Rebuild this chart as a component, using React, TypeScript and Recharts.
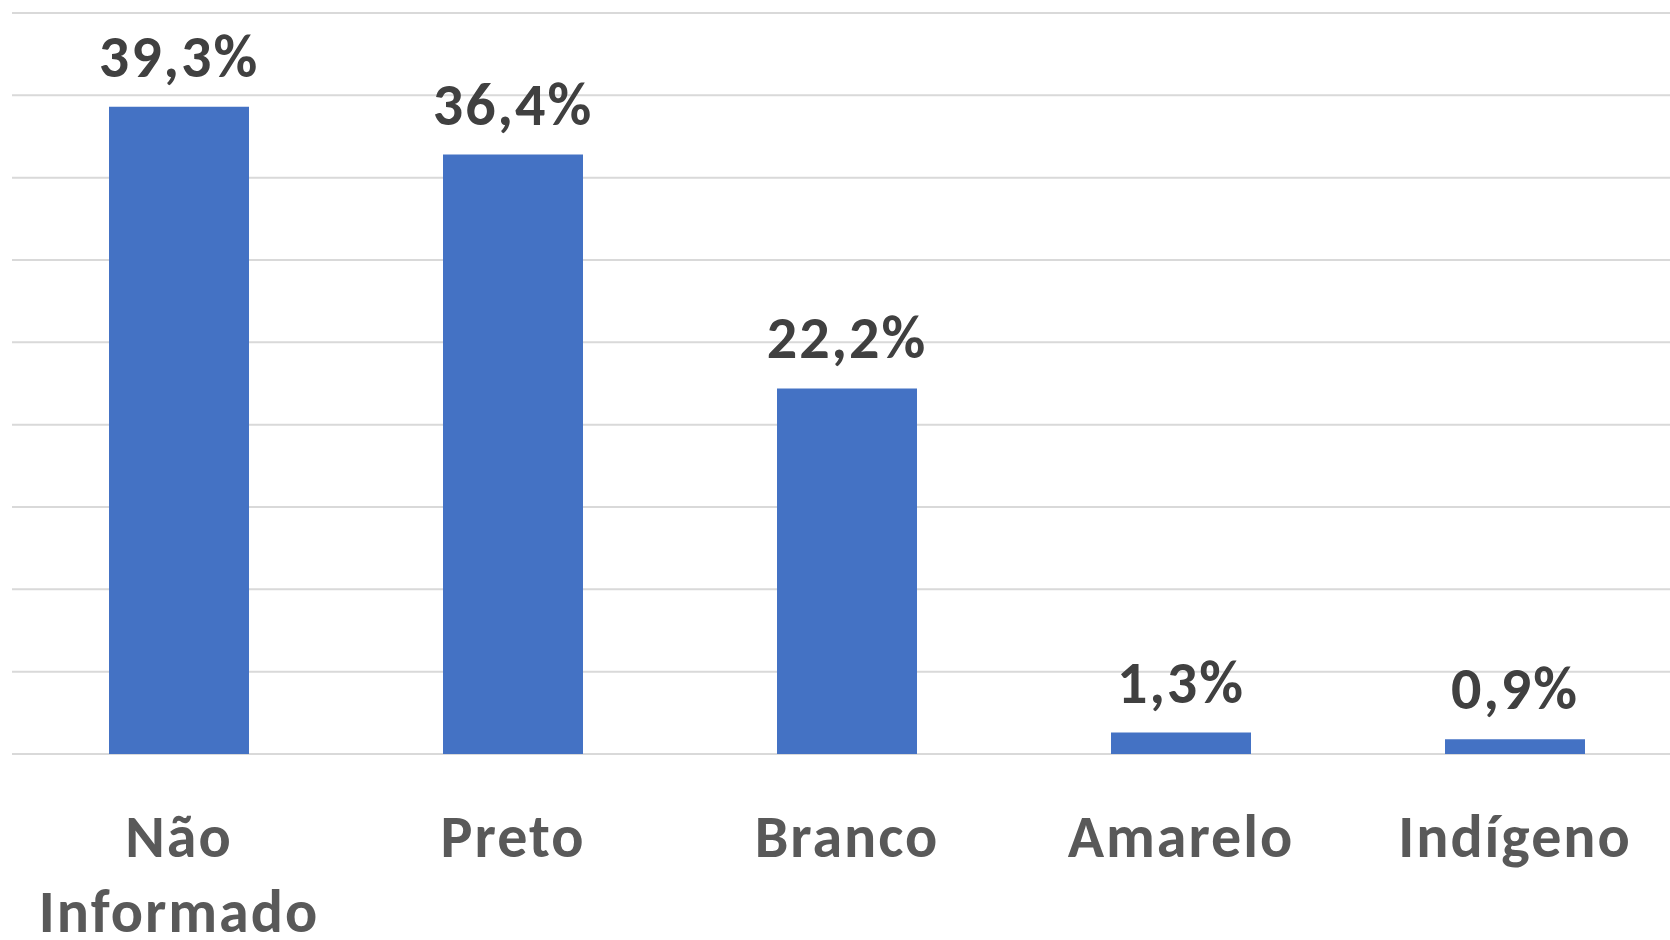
import React from "react";
import { BarChart, Bar, XAxis, YAxis, CartesianGrid, LabelList } from "recharts";

const categories = ["Não Informado", "Preto", "Branco", "Amarelo", "Indígeno"];
const values = [39.3, 36.4, 22.2, 1.3, 0.9];
const yTicks = [0, 5, 10, 15, 20, 25, 30, 35, 40, 45];

const data = categories.map((c, i) => ({ name: c, value: values[i] }));

const FONT = "Carlito, Lato, 'Open Sans', sans-serif";

const fmt = (v: number) => v.toFixed(1).replace(".", ",") + "%";

const CategoryTick = (props: any) => {
  const { x, y, payload } = props;
  const label: string = payload.value;
  const lines = label === "Não Informado" ? ["Não", "Informado"] : [label];
  return (
    <text
      x={x}
      y={y}
      textAnchor="middle"
      fill="#595959"
      fontFamily={FONT}
      fontWeight={700}
      fontSize={60}
      letterSpacing={2}
    >
      {lines.map((l, i) => (
        <tspan key={i} x={x} dy={i === 0 ? 95 : 75}>
          {l}
        </tspan>
      ))}
    </text>
  );
};

export default function App() {
  return (
    <div
      style={{
        position: "fixed",
        left: 0,
        top: 0,
        width: 1670,
        height: 940,
        overflow: "hidden",
        background: "#ffffff",
      }}
    >
      <BarChart
        width={1690}
        height={940}
        data={data}
        margin={{ top: 13, right: 8, left: 12, bottom: 0 }}
      >
        <CartesianGrid vertical={false} stroke="#d9d9d9" strokeWidth={2} />
        <XAxis
          dataKey="name"
          axisLine={false}
          tickLine={false}
          height={186}
          interval={0}
          tick={<CategoryTick />}
        />
        <YAxis hide domain={[0, 45]} ticks={yTicks} />
        <Bar dataKey="value" fill="#4472C4" barSize={140} isAnimationActive={false}>
          <LabelList
            dataKey="value"
            position="top"
            offset={30}
            formatter={(v: any) => fmt(Number(v))}
            fill="#404040"
            fontFamily={FONT}
            fontWeight={700}
            fontSize={60}
            letterSpacing={2}
          />
        </Bar>
      </BarChart>
    </div>
  );
}
